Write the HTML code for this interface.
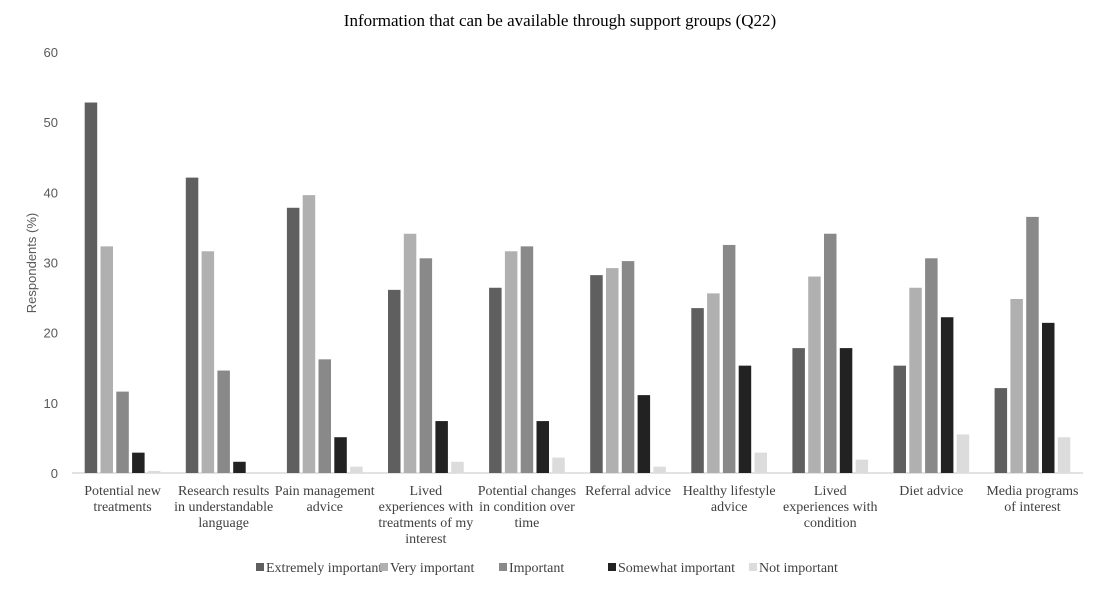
<!DOCTYPE html>
<html><head><meta charset="utf-8"><style>
body{margin:0;background:#fff;}
svg{display:block;font-family:"Liberation Serif",serif;}
</style></head><body>
<svg id="chart" width="1100" height="589" viewBox="0 0 1100 589">
<text x="560" y="26" text-anchor="middle" font-size="17" fill="#000">Information that can be available through support groups (Q22)</text>
<text transform="translate(36,263) rotate(-90)" text-anchor="middle" font-size="13" fill="#595959" font-family="Liberation Sans, sans-serif">Respondents (%)</text>
<g id="yticks"></g><g id="bars"></g><g id="xlabels"></g><g id="legend"></g>
</svg>
<script>
const categories=[["Potential new","treatments"],["Research results","in understandable","language"],["Pain management","advice"],["Lived","experiences with","treatments of my","interest"],["Potential changes","in condition over","time"],["Referral advice"],["Healthy lifestyle","advice"],["Lived","experiences with","condition"],["Diet advice"],["Media programs","of interest"]];
const seriesNames=["Extremely important","Very important","Important","Somewhat important","Not important"];
const extremely=[52.8,42.1,37.8,26.1,26.4,28.2,23.5,17.8,15.3,12.1];
const very=[32.3,31.6,39.6,34.1,31.6,29.2,25.6,28.0,26.4,24.8];
const important=[11.6,14.6,16.2,30.6,32.3,30.2,32.5,34.1,30.6,36.5];
const somewhat=[2.9,1.6,5.1,7.4,7.4,11.1,15.3,17.8,22.2,21.4];
const notImp=[0.3,0,0.9,1.6,2.2,0.9,2.9,1.9,5.5,5.1];
const yTicks=[0,10,20,30,40,50,60];
const series=[extremely,very,important,somewhat,notImp];
const colors=["#5f5f5f","#b0b0b0","#898989","#222222","#dcdcdc"];
const NS="http://www.w3.org/2000/svg";
const x0=72,band=101.1,y0=473,yMax=60,yTop=52;
const yS=v=>y0-(v/yMax)*(y0-yTop);
const xC=i=>x0+band*(i+0.5);
function mk(t,a,p){const e=document.createElementNS(NS,t);for(const k in a)e.setAttribute(k,a[k]);p.appendChild(e);return e;}
const yt=document.getElementById('yticks');
yTicks.forEach(v=>{const t=mk('text',{x:58,y:yS(v)+5,'text-anchor':'end','font-size':13,fill:'#595959','font-family':'Liberation Sans, sans-serif'},yt);t.textContent=v;

});
const ax=mk('line',{x1:x0,x2:x0+band*categories.length,y1:y0,y2:y0,stroke:'#d9d9d9','stroke-width':1.5},yt);


const bg=document.getElementById('bars');
const bw=12.5,step=15.8;
series.forEach((s,si)=>{s.forEach((v,i)=>{const x=xC(i)+(si-2)*step-bw/2;
const r=mk('rect',{x:x,y:yS(v),width:bw,height:y0-yS(v),fill:colors[si]},bg);

});});
const xl=document.getElementById('xlabels');
categories.forEach((c,i)=>{const t=mk('text',{'text-anchor':'middle','font-size':14,fill:'#404040'},xl);


c.forEach((ln,j)=>{const ts=mk('tspan',{x:xC(i),y:495+j*16},t);ts.textContent=ln;});});
const lg=document.getElementById('legend');
const lx=[256,380,499,608,749];
seriesNames.forEach((n,i)=>{const g=mk('g',{},lg);


mk('rect',{x:lx[i],y:563,width:8,height:8,fill:colors[i]},g);
const t=mk('text',{x:lx[i]+10,y:572,'font-size':14,fill:'#404040'},g);t.textContent=n;});
</script>
</body></html>
